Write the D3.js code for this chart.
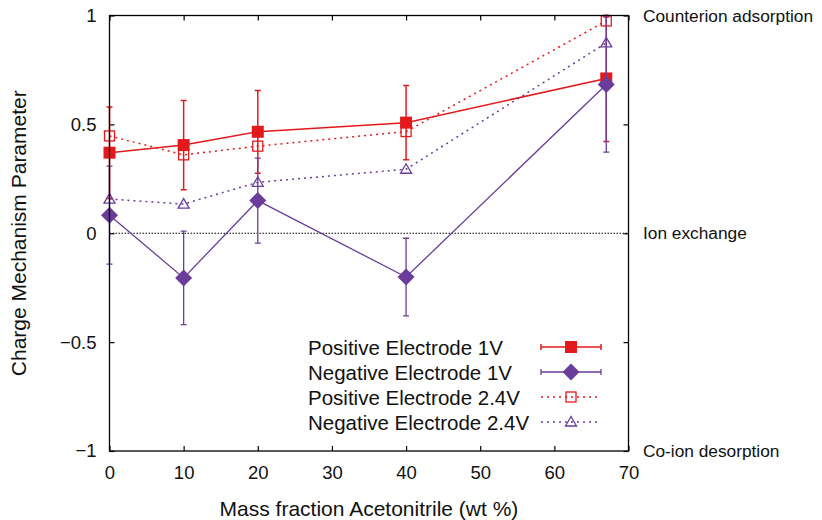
<!DOCTYPE html>
<html>
<head>
<meta charset="utf-8">
<script src="https://d3js.org/d3.v7.min.js"></script>
<style>
    body {
        margin: 0;
        background: #fff;
        font-family: "Liberation Sans", Arial, Helvetica, sans-serif;
    }
</style>
</head>
<body>
<div id="vis"></div>
<script>
    // values
    const massFraction = [0, 10, 20, 40, 67];
    const positive1V = [0.37, 0.405, 0.466, 0.508, 0.711];
    const positive1VErr = [0.21, 0.205, 0.19, 0.17, 0.29];
    const negative1V = [0.083, -0.205, 0.15, -0.201, 0.683];
    const negative1VErr = [0.225, 0.215, 0.195, 0.178, 0.31];
    const positive24V = [0.447, 0.36, 0.40, 0.467, 0.975];
    const negative24V = [0.157, 0.134, 0.234, 0.294, 0.874];
    const seriesNames = ["Positive Electrode 1V", "Negative Electrode 1V", "Positive Electrode 2.4V", "Negative Electrode 2.4V"];
    const xTicks = [0, 10, 20, 30, 40, 50, 60, 70];
    const yTicks = [-1, -0.5, 0, 0.5, 1];
    const regimeValues = [1, 0, -1];
    const regimeNames = ["Counterion adsorption", "Ion exchange", "Co-ion desorption"];

    const width = 822, height = 520;
    const RED = "#e31a1c", PURPLE = "#6a3d9a";

    const svg = d3.select("#vis").append("svg")
        .attr("width", width).attr("height", height);

    const x = d3.scaleLinear().domain([0, 70]).range([109.5, 628.5]);
    const y = d3.scaleLinear().domain([-1, 1]).range([451, 15.5]);

    const series = [
        { name: seriesNames[0], values: positive1V, err: positive1VErr, color: RED, dash: null, lw: 1.5, marker: "square" },
        { name: seriesNames[1], values: negative1V, err: negative1VErr, color: PURPLE, dash: null, lw: 1.3, marker: "diamond" },
        { name: seriesNames[2], values: positive24V, err: null, color: RED, dash: "2,4", lw: 1.5, marker: "openSquare" },
        { name: seriesNames[3], values: negative24V, err: null, color: PURPLE, dash: "2,4", lw: 1.5, marker: "triangle" }
    ];

    function drawMarker(g, type, cx, cy, color) {
        if (type === "square") {
            g.append("rect").attr("x", cx - 6).attr("y", cy - 6)
                .attr("width", 12).attr("height", 12).attr("fill", color);
        } else if (type === "diamond") {
            g.append("path").attr("d", `M${cx},${cy - 8.5}L${cx + 8.5},${cy}L${cx},${cy + 8.5}L${cx - 8.5},${cy}Z`)
                .attr("fill", color);
        } else if (type === "openSquare") {
            g.append("rect").attr("x", cx - 5).attr("y", cy - 5)
                .attr("width", 10).attr("height", 10)
                .attr("fill", "none").attr("stroke", color).attr("stroke-width", 1.3);
        } else {
            g.append("path").attr("d", `M${cx},${cy - 5.5}L${cx + 5.5},${cy + 4}L${cx - 5.5},${cy + 4}Z`)
                .attr("fill", "none").attr("stroke", color).attr("stroke-width", 1.3);
        }
    }

    // axes with inward ticks, mirrored
    const fontTick = 18.5;
    svg.append("g").attr("transform", `translate(0,${y(-1)})`)
        .call(d3.axisBottom(x).tickValues(xTicks).tickSize(-5).tickPadding(15).tickFormat(d3.format("d")))
        .call(g => g.select(".domain").remove());
    svg.append("g").attr("transform", `translate(0,${y(1)})`)
        .call(d3.axisTop(x).tickValues(xTicks).tickSize(-5).tickFormat(""))
        .call(g => g.select(".domain").remove());
    svg.append("g").attr("transform", `translate(${x(0)},0)`)
        .call(d3.axisLeft(y).tickValues(yTicks).tickSize(-5).tickPadding(13).tickFormat(d3.format("~g")))
        .call(g => g.select(".domain").remove());
    svg.append("g").attr("transform", `translate(${x(70)},0)`)
        .call(d3.axisRight(y).tickValues(yTicks).tickSize(-5).tickFormat(""))
        .call(g => g.select(".domain").remove());
    svg.selectAll(".tick line").attr("stroke", "#000").attr("stroke-width", 1.2);
    svg.selectAll(".tick text")
        .attr("font-family", "Liberation Sans, Arial, sans-serif")
        .attr("font-size", fontTick).attr("fill", "#111");

    // zero line
    svg.append("line")
        .attr("x1", x(0)).attr("x2", x(70)).attr("y1", y(0)).attr("y2", y(0))
        .attr("stroke", "#000").attr("stroke-width", 1).attr("stroke-dasharray", "1.5,1.5");

    // series
    const line = d3.line().x(d => x(d[0])).y(d => y(d[1]));
    series.forEach(s => {
        const g = svg.append("g");
        const pts = massFraction.map((m, i) => [m, s.values[i]]);
        g.append("path").attr("d", line(pts))
            .attr("fill", "none").attr("stroke", s.color).attr("stroke-width", s.lw)
            .attr("stroke-dasharray", s.dash);
        if (s.err) {
            pts.forEach((p, i) => {
                const cx = x(p[0]);
                const lo = y(p[1] - s.err[i]), hi = y(p[1] + s.err[i]);
                g.append("path")
                    .attr("d", `M${cx},${lo}V${hi}M${cx - 3},${lo}H${cx + 3}M${cx - 3},${hi}H${cx + 3}`)
                    .attr("fill", "none").attr("stroke", s.color).attr("stroke-width", s.lw);
            });
        }
        pts.forEach(p => drawMarker(g, s.marker, x(p[0]), y(p[1]), s.color));
    });

    // frame
    svg.append("rect")
        .attr("x", x(0)).attr("y", y(1))
        .attr("width", x(70) - x(0)).attr("height", y(-1) - y(1))
        .attr("fill", "none").attr("stroke", "#000").attr("stroke-width", 1.3);

    // legend
    const legend = svg.append("g").attr("transform", "translate(308,347)");
    series.forEach((s, i) => {
        const row = legend.append("g").attr("transform", `translate(0,${i * 25})`);
        row.append("text").attr("x", 0).attr("y", 0)
            .attr("dominant-baseline", "central")
            .attr("font-size", 20.5).attr("fill", "#111")
            .text(s.name);
        row.append("path")
            .attr("d", s.err ? "M233,0H293M233,-3V3M293,-3V3" : "M233,0H293")
            .attr("fill", "none").attr("stroke", s.color).attr("stroke-width", s.lw)
            .attr("stroke-dasharray", s.err ? null : s.dash);
        drawMarker(row, s.marker, 263, 0, s.color);
    });

    // regime labels on the right
    svg.selectAll(".regime")
        .data(regimeValues)
        .join("text")
        .attr("class", "regime")
        .attr("x", 643)
        .attr("y", d => y(d))
        .attr("dominant-baseline", "central")
        .attr("font-size", 17.3).attr("fill", "#111")
        .text((d, i) => regimeNames[i]);

    // axis titles
    svg.append("text")
        .attr("x", (x(0) + x(70)) / 2).attr("y", 508)
        .attr("text-anchor", "middle").attr("dominant-baseline", "central")
        .attr("font-size", 21).attr("fill", "#111")
        .text("Mass fraction Acetonitrile (wt %)");
    svg.append("text")
        .attr("transform", `translate(18,${(y(1) + y(-1)) / 2}) rotate(-90)`)
        .attr("text-anchor", "middle").attr("dominant-baseline", "central")
        .attr("font-size", 21).attr("fill", "#111")
        .text("Charge Mechanism Parameter");
</script>
</body>
</html>
